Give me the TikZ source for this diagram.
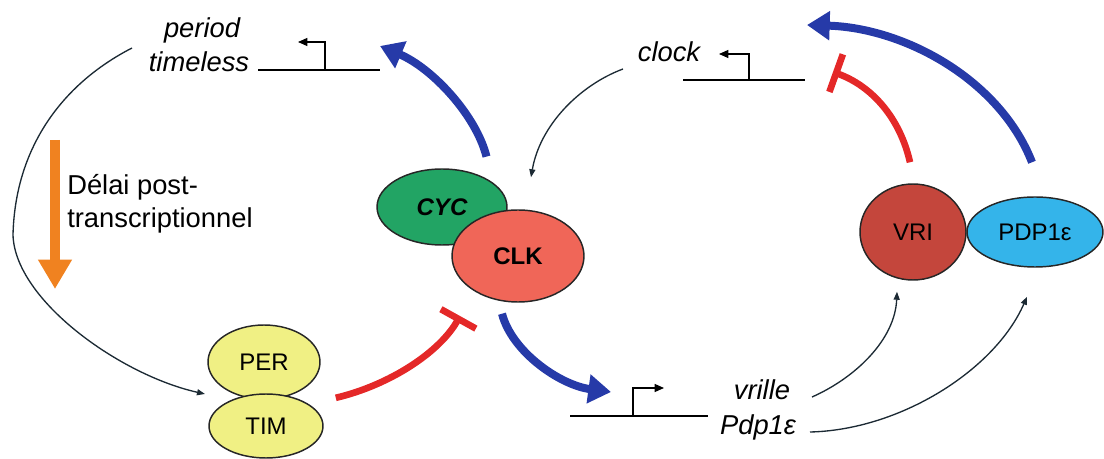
\documentclass[tikz,border=0pt]{standalone}
\usepackage{fontspec}
\setmainfont{Liberation Sans}
\usetikzlibrary{arrows.meta,shapes.geometric}

\definecolor{cycgreen}{RGB}{34,164,100}
\definecolor{clksalmon}{RGB}{240,102,88}
\definecolor{vrired}{RGB}{196,70,60}
\definecolor{pdpblue}{RGB}{52,180,234}
\definecolor{pertimyellow}{RGB}{240,240,132}
\definecolor{actblue}{RGB}{38,58,168}
\definecolor{repred}{RGB}{228,40,40}
\definecolor{delayorange}{RGB}{240,130,32}
\definecolor{linkdark}{RGB}{28,42,52}

\begin{document}
\begin{tikzpicture}[x=0.75pt,y=-0.75pt,
  gene/.style={font=\fontsize{20.5}{24}\selectfont\itshape, inner sep=0, anchor=base},
  note/.style={font=\fontsize{20.5}{24}\selectfont, inner sep=0, anchor=base west},
  prot/.style={ellipse, draw=black!85, line width=1.1pt, inner sep=0,
               font=\fontsize{18}{20}\selectfont},
  dna/.style={draw=black, line width=0.9pt},
  promoter/.style={draw=black, line width=0.9pt, -{Triangle[length=7pt,width=6pt]}},
  link/.style={draw=linkdark, line width=1pt, -{Triangle[length=6pt,width=4.5pt]}},
  activ/.style={draw=actblue, line width=6pt, -{Triangle[length=17pt,width=21pt]}},
  repress/.style={draw=repred, line width=5pt, -{Bar[width=30pt]}},
  delay/.style={draw=delayorange, line width=7.5pt, -{Triangle[length=22pt,width=24pt]}}]

\useasboundingbox (0,0) rectangle (1104,459);

% ---------- genes and their promoters ----------
\node[gene] (period)   at (202,38) {period};
\node[gene] (timeless) at (199,72) {timeless};
\coordinate (ptL) at (258,70);
\coordinate (ptR) at (380,70);
\coordinate (ptP) at (325,70);
\coordinate (ptA) at (298,42);
\draw[dna] (ptL) -- (ptR);
\draw[promoter] (ptP) |- (ptA);

\node[gene] (clock) at (669,62) {clock};
\coordinate (ckL) at (683,80);
\coordinate (ckR) at (805,80);
\coordinate (ckP) at (749,80);
\coordinate (ckA) at (719,54);
\draw[dna] (ckL) -- (ckR);
\draw[promoter] (ckP) |- (ckA);

\node[gene] (vrille) at (762,400) {vrille};
\node[gene] (pdpgene) at (758,435) {Pdp1ε};
\coordinate (vrL) at (570,416);
\coordinate (vrR) at (708,416);
\coordinate (vrP) at (633,416);
\coordinate (vrA) at (664,388);
\draw[dna] (vrL) -- (vrR);
\draw[promoter] (vrP) |- (vrA);

% ---------- delay label ----------
\node[note] (delai1) at (67,195) {Délai post-};
\node[note] (delai2) at (67,228) {transcriptionnel};
\coordinate (dlTop) at (55,140);
\coordinate (dlBot) at (55,289);
\draw[delay] (dlTop) -- (dlBot);

% ---------- proteins ----------
\node[prot, fill=cycgreen, minimum width=97.5pt, minimum height=57pt]
  (cyc) at (442,207) {\bfseries\itshape CYC};
\node[prot, fill=clksalmon, minimum width=99pt, minimum height=69pt]
  (clk) at (518,256) {\bfseries CLK};

\node[prot, fill=vrired, minimum width=79.5pt, minimum height=72pt]
  (vri) at (913,232) {VRI};
\node[prot, fill=pdpblue, minimum width=102pt, minimum height=52.5pt]
  (pdp) at (1035,232) {PDP1ε};

\node[prot, fill=pertimyellow, minimum width=84pt, minimum height=55.5pt]
  (per) at (264,362) {PER};
\node[prot, fill=pertimyellow, minimum width=85.5pt, minimum height=48pt]
  (tim) at (266,426) {TIM};

% ---------- free ends of the connectors ----------
\coordinate (ptTip)  at (380,46);
\coordinate (vrTip)  at (611,392);
\coordinate (ckTip)  at (807,25);
\coordinate (ckBar)  at (833,72);
\coordinate (clkBar) at (460,316);
\coordinate (ptOut)  at (132,48);
\coordinate (perIn)  at (205,394);
\coordinate (ckOut)  at (623,69);
\coordinate (vrOut)  at (812,397);
\coordinate (pdOut)  at (810,432);

% ---------- thin transcript / translation links ----------
\draw[link] (ptOut) .. controls (60,85) and (15,150) .. (13,235)
                    .. controls (15,300) and (120,375) .. (perIn);
\draw[link] (ckOut) .. controls (580,85) and (540,125) .. ([shift={(13,-32)}]clk.north);
\draw[link] (vrOut) .. controls (855,378) and (895,340) .. ([shift={(-16,11)}]vri.south);
\draw[link] (pdOut) .. controls (900,430) and (995,370) .. ([shift={(-8,29)}]pdp.south);

% ---------- activation (blue) ----------
\draw[activ] ([shift={(-2,-23)}]cyc.north east) .. controls (476,115) and (432,68) .. (ptTip);
\draw[activ] ([shift={(-16,11)}]clk.south) .. controls (512,352) and (560,385) .. (vrTip);
\draw[activ] ([shift={(-3,-34)}]pdp.north) .. controls (1000,80) and (905,28) .. (ckTip);

% ---------- repression (red) ----------
\draw[repress] ([shift={(-3,-21)}]vri.north) .. controls (900,118) and (872,86) .. (ckBar);
\draw[repress] ([shift={(29,-5)}]tim.north east) .. controls (390,385) and (440,352) .. (clkBar);

\end{tikzpicture}
\end{document}
